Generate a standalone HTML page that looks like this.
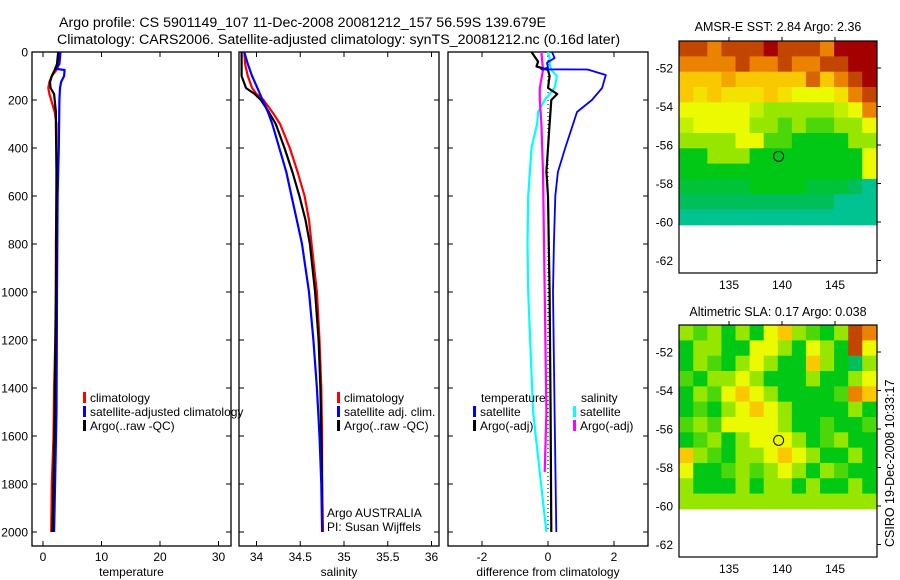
<!DOCTYPE html>
<html><head><meta charset="utf-8">
<style>
html,body{margin:0;padding:0;background:#fff;}
svg{display:block;font-family:"Liberation Sans",sans-serif;}
text{font-size:12px;fill:#000;}
.ttl{font-size:14.2px;}
</style></head>
<body>
<svg id="fig" width="900" height="580" viewBox="0 0 900 580">
  <text class="ttl" x="59" y="27">Argo profile: CS 5901149_107 11-Dec-2008 20081212_157 56.59S 139.679E</text>
  <text class="ttl" x="57" y="44">Climatology: CARS2006. Satellite-adjusted climatology: synTS_20081212.nc (0.16d later)</text>
  <text x="778" y="31" text-anchor="middle" style="font-size:12.5px">AMSR-E SST: 2.84  Argo: 2.36</text>
  <text x="778" y="316" text-anchor="middle" style="font-size:12.5px">Altimetric SLA: 0.17  Argo: 0.038</text>
  <text transform="translate(894,547) rotate(-90)" style="font-size:12.5px">CSIRO 19-Dec-2008 10:33:17</text>
  <g id="plots"></g>
</svg>
<script>
// ---------- profile data ----------
const depthTick = [0,200,400,600,800,1000,1200,1400,1600,1800,2000];
const tempTicks = [0,10,20,30];
const salTicks = [34,34.5,35,35.5,36];
const salTickLabels = ["34","34.5","35","35.5","36"];
const diffTicks = [-2,0,2];

const tClimDepth = [0,50,75,100,125,150,175,200,250,300,400,600,800,1000,1200,1400,1600,1800,2000];
const tClim      = [2.6,2.7,2.3,1.5,1.1,0.9,1.1,1.4,2.0,2.3,2.3,2.3,2.2,2.2,2.1,1.9,1.8,1.5,1.4];
const tArgoDepth = [0,50,75,100,125,150,175,200,250,300,500,1000,1500,1800,2000];
const tArgo      = [2.6,2.4,2.0,1.5,1.2,1.3,1.9,2.0,2.2,2.2,2.3,2.2,2.0,1.8,1.6];
const tSatDepth  = [0,50,70,75,100,125,150,200,400,600,1000,1500,2000];
const tSat       = [3.0,2.8,2.2,3.7,3.6,3.1,2.9,2.8,2.7,2.5,2.4,2.3,1.9];

const sDepth = [0,50,100,150,175,200,250,300,400,500,600,700,800,900,1000,1200,1400,1600,1800,2000];
const sClim  = [33.86,33.87,33.90,33.95,34.00,34.08,34.18,34.27,34.38,34.47,34.55,34.60,34.63,34.66,34.69,34.72,34.74,34.75,34.75,34.76];
const sArgo  = [33.83,33.83,33.83,33.88,33.98,34.05,34.14,34.22,34.32,34.41,34.49,34.56,34.61,34.64,34.67,34.71,34.73,34.74,34.75,34.75];
const sSat   = [33.86,33.90,33.95,34.01,34.04,34.07,34.13,34.18,34.26,34.34,34.40,34.46,34.52,34.56,34.60,34.65,34.69,34.72,34.74,34.75];

const dTSatDepth = [0,25,45,65,72,73,96,150,200,250,300,400,500,600,800,1000,1500,2000];
const dTSat      = [0.12,0.2,-0.03,0.0,-0.2,1.2,1.75,1.64,1.33,0.88,0.76,0.52,0.3,0.22,0.18,0.15,0.2,0.25];
const dTArgoDepth = [0,40,60,75,100,150,175,200,300,500,600,1000,1500,2000];
const dTArgo      = [-0.5,-0.3,-0.35,0.0,0.05,0.0,0.28,0.1,0.05,-0.05,0.0,0.05,0.08,0.1];
const dSSatDepth = [0,25,50,75,100,150,200,250,300,400,500,600,800,1000,1500,2000];
const dSSat      = [0.0,0.05,0.05,0.1,0.27,0.2,-0.1,-0.3,-0.33,-0.5,-0.55,-0.6,-0.62,-0.6,-0.45,-0.05];
const dSArgoDepth = [0,75,150,200,300,500,1000,1500,1750];
const dSArgo      = [-0.2,-0.15,-0.25,-0.25,-0.2,-0.15,-0.1,-0.05,-0.1];

// ---------- map data ----------
const mapLatTicks = [-52,-54,-56,-58,-60,-62];
const mapLonTicks = [135,140,145];
const argoLon = 139.679, argoLat = -56.59;
const sstGrid = [
[9,9,8,9,9,9,10,9,9,9,8,10,10,10],
[8,8,8,8,9,8,8,9,8,8,9,9,10,10],
[7,7,7,7.5,7,7,7,7,7,8.5,7,8,9,10],
[7,6.5,7,6.5,6.5,6.5,7,6.5,6,6,6,6.5,8,9],
[6,6,6,6,6,5.5,5,5,5,5,5,5.5,6,8],
[5.5,6,6,6,6,5,5,4.5,5,4.5,4.5,5,5,6],
[5,5,5,5,6,6,4.5,4.5,4,4,4,4,5,5],
[4,4,5,5,5,4,4,4,4,4,4,4,4,6],
[4,4,4,4,4,4,4,4,4,4,4,4,4,6],
[3.5,3.5,3.5,3.5,3.5,4,4,4,4,3.5,3.5,3.5,3,2.5],
[3,3,3,3,3,3,3,3,3,3,3,2.5,2.5,2.5],
[2.5,2.5,2.5,2.5,2.5,2.5,2.5,2.5,2.5,2.5,2.5,2.5,2.5,2.5]];
const slaGrid = [
[5,4.5,5,4,5,4,6,7,5,4.5,4,5,9,8],
[4,5,5,4,4,6,6,5,4,6,5,4,9,6],
[4,5,4.5,4,5,6,5,4,4,7,5,4,3,5],
[4.5,4,5,5,6,5,4,4,4,5,4,4,5,6],
[4,5,4.5,6,7,6,5,4,4,4,4,4.5,8,7],
[4,4.5,4,5,6,7,6,5,4,4,4,4,5,4],
[4.5,5,4.5,6,6,6,6,5,4,4,4.5,4,4,4.5],
[4,4.5,5,4,5,6,6,6,5,4,4.5,5,4,4],
[7,5,4.5,4,5,5,6,7,6,5,4,4,5,4],
[6,4,4,4.5,5,4.5,5,6,5,4,5,4.5,4,4],
[5,4,4,4,5,4,5,5,4,5,4,4,5,4],
[5,5,5,5,5,5,5,5,5,5,5,5,5,5]];

const NS = "http://www.w3.org/2000/svg";
const root = document.getElementById('plots');
function mk(tag, attrs, parent){
  const e = document.createElementNS(NS, tag);
  for (const k in attrs) e.setAttribute(k, attrs[k]);
  (parent||root).appendChild(e); return e;
}
function txt(x,y,s,anchor,parent){
  const t = mk('text',{x:x,y:y,'text-anchor':anchor||'start'},parent);
  t.textContent = s; return t;
}
const dY = d => 52 + d*0.24;

function panel(name, left, right, x0, xScale, ticks, labels, xtitle, showDepth){
  const g = mk('g',{});
  
  
  const top = 52, bot = 546;
  const fx = v => x0 + v*xScale;
  const frame = mk('rect',{x:left,y:top,width:right-left,height:bot-top,fill:'none',stroke:'#000','stroke-width':1.3},g);
  
  
  ticks.forEach((v,i)=>{
    const x = fx(v);
    mk('line',{x1:x,y1:top,x2:x,y2:top+5,stroke:'#000'},g);
    mk('line',{x1:x,y1:bot,x2:x,y2:bot-5,stroke:'#000'},g);
    const t = txt(x,561,labels[i],'middle',g);
    
    
  });
  depthTick.forEach(d=>{
    const y = dY(d);
    mk('line',{x1:left,y1:y,x2:left+5,y2:y,stroke:'#000'},g);
    mk('line',{x1:right,y1:y,x2:right-5,y2:y,stroke:'#000'},g);
    if (showDepth){
      const t = txt(left-4,y+4.5,String(d),'end',g);
      
      
    }
  });
  const xt = txt((left+right)/2,576,xtitle,'middle',g);
  
  
  return {g, fx};
}
function line(p, depths, vals, color, name, w, dash){
  const pts = depths.map((d,i)=>p.fx(vals[i]).toFixed(1)+','+dY(d).toFixed(1)).join(' ');
  const a = {points:pts,fill:'none',stroke:color,'stroke-width':w||2.2,'stroke-linejoin':'round'};
  if (dash) a['stroke-dasharray']=dash;
  const l = mk('polyline',a,p.g);
  
  
}
function legendItem(g, x, y, color, label, name){
  const r = mk('rect',{x:x,y:y-10,width:3,height:11,fill:color},g);
  
  
  const t = txt(x+7,y,label,'start',g);
  
  
}

// temperature panel
const pT = panel('temperature-panel',32,231,43,5.85,tempTicks,tempTicks.map(String),'temperature',true);
line(pT,tClimDepth,tClim,'#f00','temp-climatology-line');
line(pT,tSatDepth,tSat,'#00f','temp-satellite-line');
line(pT,tArgoDepth,tArgo,'#000','temp-argo-line');
legendItem(pT.g,83,402,'#f00','climatology','temp-legend-climatology');
legendItem(pT.g,83,416,'#00f','satellite-adjusted climatology','temp-legend-satellite');
legendItem(pT.g,83,430,'#000','Argo(..raw -QC)','temp-legend-argo');

// salinity panel
const pS = panel('salinity-panel',239,439,256.5-34*87.5,87.5,salTicks,salTickLabels,'salinity',false);
line(pS,sDepth,sClim,'#f00','sal-climatology-line');
line(pS,sDepth,sArgo,'#000','sal-argo-line');
line(pS,sDepth,sSat,'#00f','sal-satellite-line');
legendItem(pS.g,337,402,'#f00','climatology','sal-legend-climatology');
legendItem(pS.g,337,416,'#00f','satellite adj. clim.','sal-legend-satellite');
legendItem(pS.g,337,430,'#000','Argo(..raw -QC)','sal-legend-argo');
const n1 = txt(327,517,'Argo AUSTRALIA','start',pS.g);


const n2 = txt(327,531,'PI: Susan Wijffels','start',pS.g);



// difference panel
const pD = panel('difference-panel',448,648,548,33,diffTicks,diffTicks.map(String),'difference from climatology',false);
line(pD,[0,2000],[0,0],'#000','zero-reference-line',1,'1,3');
line(pD,dSSatDepth,dSSat,'#0ff','diff-sal-satellite-line');
line(pD,dSArgoDepth,dSArgo,'#f0f','diff-sal-argo-line');
line(pD,dTArgoDepth,dTArgo,'#000','diff-temp-argo-line');
line(pD,dTSatDepth,dTSat,'#00f','diff-temp-satellite-line',1.8);
const lt = txt(481,402,'temperature','start',pD.g);


const ls = txt(581,402,'salinity','start',pD.g);


legendItem(pD.g,473,416,'#00f','satellite','diff-legend-temp-satellite');
legendItem(pD.g,473,430,'#000','Argo(-adj)','diff-legend-temp-argo');
legendItem(pD.g,573,416,'#0ff','satellite','diff-legend-sal-satellite');
legendItem(pD.g,573,430,'#f0f','Argo(-adj)','diff-legend-sal-argo');

// ---------- maps ----------
const cmap = [[0,200,200],[0,200,200],[0,200,200],[0,190,90],[0,200,20],[150,230,0],[235,250,0],[250,200,0],[235,130,0],[195,70,0],[165,0,0]];
function colorOf(v){
  const i = Math.max(0,Math.min(9.999,v)); const a = Math.floor(i), f = i-a;
  const c = cmap[a].map((x,k)=>Math.round(x+(cmap[a+1][k]-x)*f));
  return 'rgb('+c.join(',')+')';
}
function map(name, top, grid){
  const g = mk('g',{});
  
  
  const left=679, right=877, bot=top+232;
  const lonX = lon => 782 + (lon-140)*10.6;
  const latY = lat => (top+104) + (-56-lat)*19.25;
  const lon0 = 130.3, lon1 = 148.9, lat0 = -50.6, lat1 = -60.15;
  const rows = grid.length, cols = grid[0].length;
  grid.forEach((row,r)=>row.forEach((v,c)=>{
    const la = lat0 + (lat1-lat0)*r/rows, lb = lat0 + (lat1-lat0)*(r+1)/rows;
    const oa = lon0 + (lon1-lon0)*c/cols, ob = lon0 + (lon1-lon0)*(c+1)/cols;
    const cell = mk('rect',{x:lonX(oa),y:latY(la),width:lonX(ob)-lonX(oa)+0.5,height:latY(lb)-latY(la)+0.5,fill:colorOf(v)},g);
    
    
  }));
  const fr = mk('rect',{x:left,y:top,width:right-left,height:bot-top,fill:'none',stroke:'#000','stroke-width':1.2},g);
  
  
  mapLatTicks.forEach(l=>{
    const y = latY(l);
    mk('line',{x1:right,y1:y,x2:right+4,y2:y,stroke:'#000'},g);
    const t = txt(673,y+4.5,String(l),'end',g);
    
    
  });
  mapLonTicks.forEach(l=>{
    const x = lonX(l);
    mk('line',{x1:x,y1:top,x2:x,y2:top-4,stroke:'#000'},g);
    const t = txt(x,bot+16,String(l),'middle',g);
    
    
  });
  const m = mk('circle',{cx:lonX(argoLon),cy:latY(argoLat),r:5,fill:colorOf(grid[7][6]),stroke:'#000','stroke-width':1},g);
  
  
}
map('sst-map',41,sstGrid);
map('sla-map',325,slaGrid);
</script>
</body></html>
